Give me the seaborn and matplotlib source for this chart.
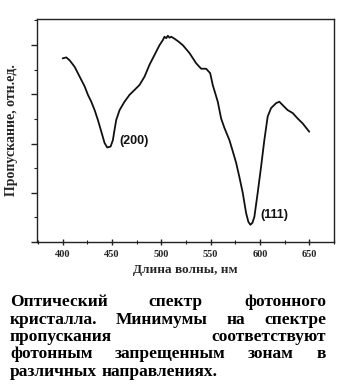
import matplotlib
matplotlib.use("Agg")
import matplotlib.pyplot as plt
import seaborn as sns
import pandas as pd
from matplotlib.ticker import MultipleLocator, NullFormatter

# Transmission spectrum of a photonic crystal
wavelength = [400, 403.7, 407.1, 412.1, 417.2, 422.3, 425.6, 429.0, 432.4, 435.7,
              439.2, 442.5, 445.2, 448.6, 450.9, 452.6, 454.3, 457.7, 462.7, 467.8,
              472.9, 477.9, 483.0, 488.0, 493.1, 498.2, 501.5, 503.2, 505.0, 506.6,
              508.3, 510.0, 513.3, 517.5, 521.7, 528.5, 535.3, 540.4, 545.4, 549.5,
              552.1, 557.2, 560.6, 563.9, 569.0, 572.0, 575.8, 579.1, 582.5, 585.9,
              588.2, 590.3, 592.3, 594.3, 597.6, 601.1, 604.4, 607.8, 611.2, 616.3,
              619.6, 623.0, 628.0, 633.1, 638.1, 643.2, 649.9]
transmission = [3.73, 3.75, 3.69, 3.56, 3.36, 3.16, 2.99, 2.85, 2.68, 2.48,
                2.24, 2.01, 1.92, 1.94, 2.07, 2.28, 2.48, 2.68, 2.85, 2.99,
                3.09, 3.19, 3.36, 3.60, 3.80, 4.00, 4.10, 4.17, 4.14, 4.19,
                4.15, 4.17, 4.13, 4.07, 4.00, 3.84, 3.63, 3.52, 3.52, 3.43,
                3.19, 2.85, 2.51, 2.32, 2.07, 1.87, 1.61, 1.32, 1.00, 0.59,
                0.41, 0.35, 0.39, 0.51, 0.99, 1.53, 2.07, 2.55, 2.72, 2.82,
                2.85, 2.78, 2.68, 2.62, 2.51, 2.41, 2.24]

peak_labels = ["(200)", "(111)"]
peak_x = [457.5, 600.5]
peak_y = [2.05, 0.55]

x_ticks = [400, 450, 500, 550, 600, 650]

caption_lines = [
    ["Оптический", "спектр", "фотонного"],
    ["кристалла.", "Минимумы", "на", "спектре"],
    ["пропускания", "соответствуют"],
    ["фотонным", "запрещенным", "зонам", "в"],
    ["различных", "направлениях."],
]

sns.set_theme(style="white")
plt.rcParams["font.family"] = ["Liberation Serif", "DejaVu Serif"]

fig = plt.figure(figsize=(3.48, 3.84), dpi=100)
ax = fig.add_axes([37 / 348, 1 - 242 / 384, 297 / 348, 223 / 384])

df = pd.DataFrame({"wl": wavelength, "t": transmission})
sns.lineplot(data=df, x="wl", y="t", ax=ax, color="#111111", linewidth=1.3,
             sort=False, estimator=None)

ax.set_xlim(374, 675)
ax.set_ylim(0, 4.53)
ax.set_xticks(x_ticks)
ax.xaxis.set_minor_locator(MultipleLocator(25))
ax.yaxis.set_major_locator(MultipleLocator(1))
ax.yaxis.set_minor_locator(MultipleLocator(0.5))
ax.yaxis.set_major_formatter(NullFormatter())

for s in ax.spines.values():
    s.set_color("#222222")
    s.set_linewidth(1.0)

ax.tick_params(axis="x", which="major", direction="inout", length=5, width=1,
               color="#222222", labelsize=7.5, pad=3, bottom=True)
ax.tick_params(axis="x", which="minor", direction="inout", length=3, width=0.8,
               color="#222222", bottom=True)
ax.tick_params(axis="y", which="major", direction="out", length=4, width=1,
               color="#222222", left=True)
ax.tick_params(axis="y", which="minor", direction="out", length=2, width=0.8,
               color="#222222", left=True)
for lbl in ax.get_xticklabels():
    lbl.set_fontweight("bold")

ax.set_xlabel("Длина волны, нм", fontsize=9.5, fontweight="bold", labelpad=4)
ax.set_ylabel("Пропускание, отн.ед.", fontsize=10, fontweight="bold", labelpad=6)

for txt, xx, yy in zip(peak_labels, peak_x, peak_y):
    ax.text(xx, yy, txt, fontsize=9, fontweight="bold", va="center", ha="left",
            family=["Liberation Sans", "DejaVu Sans"], color="#111111")

# Justified caption block beneath the chart
renderer = fig.canvas.get_renderer()
left_px, right_px = 10, 326
top_px, step_px = 300, 17.5
cap_size = 12.5
W, H = fig.get_size_inches() * fig.dpi
for i, words in enumerate(caption_lines):
    y = 1 - (top_px + i * step_px) / H
    texts = [fig.text(0, y, w, fontsize=cap_size, fontweight="bold", va="center_baseline",
                      ha="left", color="black") for w in words]
    widths = [t.get_window_extent(renderer).width for t in texts]
    if i == len(caption_lines) - 1:
        g = cap_size * 0.25 * fig.dpi / 72
    else:
        g = (right_px - left_px - sum(widths)) / (len(words) - 1)
    x = left_px
    for t, w in zip(texts, widths):
        t.set_x(x / W)
        x += w + g

fig.savefig("out.png", dpi=100)
